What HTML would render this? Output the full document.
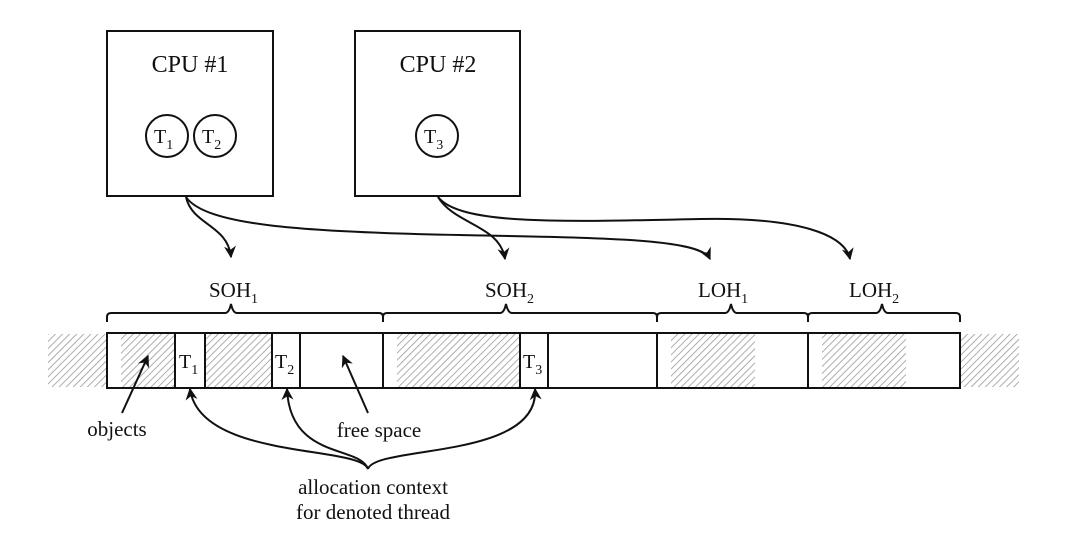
<!DOCTYPE html>
<html><head><style>html,body{margin:0;padding:0;background:#fff;}svg{display:block;}</style></head>
<body>
<svg width="1070" height="542" viewBox="0 0 1070 542" xmlns="http://www.w3.org/2000/svg" font-family="Liberation Serif, serif" fill="none" stroke="#111">
<defs>
<pattern id="h" width="5" height="5" patternUnits="userSpaceOnUse" patternTransform="rotate(45)">
<line x1="0" y1="0" x2="0" y2="5" stroke="#999" stroke-width="1.6"/>
</pattern>
<marker id="a" viewBox="0 0 10 10" refX="9" refY="5" markerWidth="12" markerHeight="12" orient="auto-start-reverse" markerUnits="userSpaceOnUse">
<path d="M0,0 L10,5 L0,10 L3,5 Z" fill="#111" stroke="none"/>
</marker>
</defs>
<g stroke-width="2">
<rect x="107" y="31" width="166" height="165" fill="#fff"/>
<rect x="355" y="31" width="165" height="165" fill="#fff"/>
<circle cx="167" cy="136" r="21"/>
<circle cx="215" cy="136" r="21"/>
<circle cx="437" cy="136" r="21"/>
</g>
<g fill="#111" stroke="none" font-size="24" text-anchor="middle">
<text x="190" y="72">CPU #1</text>
<text x="438" y="72">CPU #2</text>
</g>
<g fill="#111" stroke="none" font-size="20">
<text x="154" y="143">T<tspan font-size="14" dy="6">1</tspan></text>
<text x="202" y="143">T<tspan font-size="14" dy="6">2</tspan></text>
<text x="424" y="143">T<tspan font-size="14" dy="6">3</tspan></text>
</g>
<g stroke-width="2" marker-end="url(#a)">
<path d="M186,197 C192,225 228,225 231,257"/>
<path d="M186,197 C205,225 300,232 460,235 C600,238 700,238 710,259"/>
<path d="M438,197 C455,225 500,225 505,259"/>
<path d="M438,197 C460,225 560,222 700,219 C800,217 845,235 850,259"/>
</g>
<g fill="#111" stroke="none" font-size="21">
<text x="209" y="297">SOH<tspan font-size="14" dy="6">1</tspan></text>
<text x="485" y="297">SOH<tspan font-size="14" dy="6">2</tspan></text>
<text x="698" y="297">LOH<tspan font-size="14" dy="6">1</tspan></text>
<text x="849" y="297">LOH<tspan font-size="14" dy="6">2</tspan></text>
</g>
<g stroke-width="2">
<path d="M107,322 v-5 q0,-4 4,-4 H225 q4,0 6,-9 q2,9 6,9 H379 q4,0 4,4 v5"/>
<path d="M383,322 v-5 q0,-4 4,-4 H500 q4,0 6,-9 q2,9 6,9 H653 q4,0 4,4 v5"/>
<path d="M657,322 v-5 q0,-4 4,-4 H725 q4,0 6,-9 q2,9 6,9 H804 q4,0 4,4 v5"/>
<path d="M808,322 v-5 q0,-4 4,-4 H876 q4,0 6,-9 q2,9 6,9 H956 q4,0 4,4 v5"/>
</g>
<g stroke="none" fill="url(#h)">
<rect x="48" y="334" width="59" height="53"/>
<rect x="961" y="334" width="58" height="53"/>
<rect x="121" y="334" width="54" height="53"/>
<rect x="205" y="334" width="67" height="53"/>
<rect x="397" y="334" width="123" height="53"/>
<rect x="671" y="334" width="84" height="53"/>
<rect x="822" y="334" width="84" height="53"/>
</g>
<g stroke-width="2">
<rect x="107" y="333" width="853" height="55"/>
<line x1="175" y1="333" x2="175" y2="388"/>
<line x1="205" y1="333" x2="205" y2="388"/>
<line x1="272" y1="333" x2="272" y2="388"/>
<line x1="300" y1="333" x2="300" y2="388"/>
<line x1="383" y1="333" x2="383" y2="388"/>
<line x1="520" y1="333" x2="520" y2="388"/>
<line x1="548" y1="333" x2="548" y2="388"/>
<line x1="657" y1="333" x2="657" y2="388"/>
<line x1="808" y1="333" x2="808" y2="388"/>
</g>
<g fill="#111" stroke="none" font-size="20">
<text x="179" y="368">T<tspan font-size="14" dy="6">1</tspan></text>
<text x="275" y="368">T<tspan font-size="14" dy="6">2</tspan></text>
<text x="523" y="368">T<tspan font-size="14" dy="6">3</tspan></text>
</g>
<g stroke-width="2" marker-end="url(#a)">
<path d="M122,413 L148,356"/>
<path d="M368,413 L343,356"/>
<path d="M368,469 C360,445 200,460 190,389"/>
<path d="M368,469 C360,445 290,460 287,389"/>
<path d="M368,469 C375,445 540,460 535,389"/>
</g>
<g fill="#111" stroke="none" font-size="21" text-anchor="middle">
<text x="117" y="436">objects</text>
<text x="379" y="437">free space</text>
<text x="373" y="494">allocation context</text>
<text x="373" y="519">for denoted thread</text>
</g>
</svg>
</body></html>
